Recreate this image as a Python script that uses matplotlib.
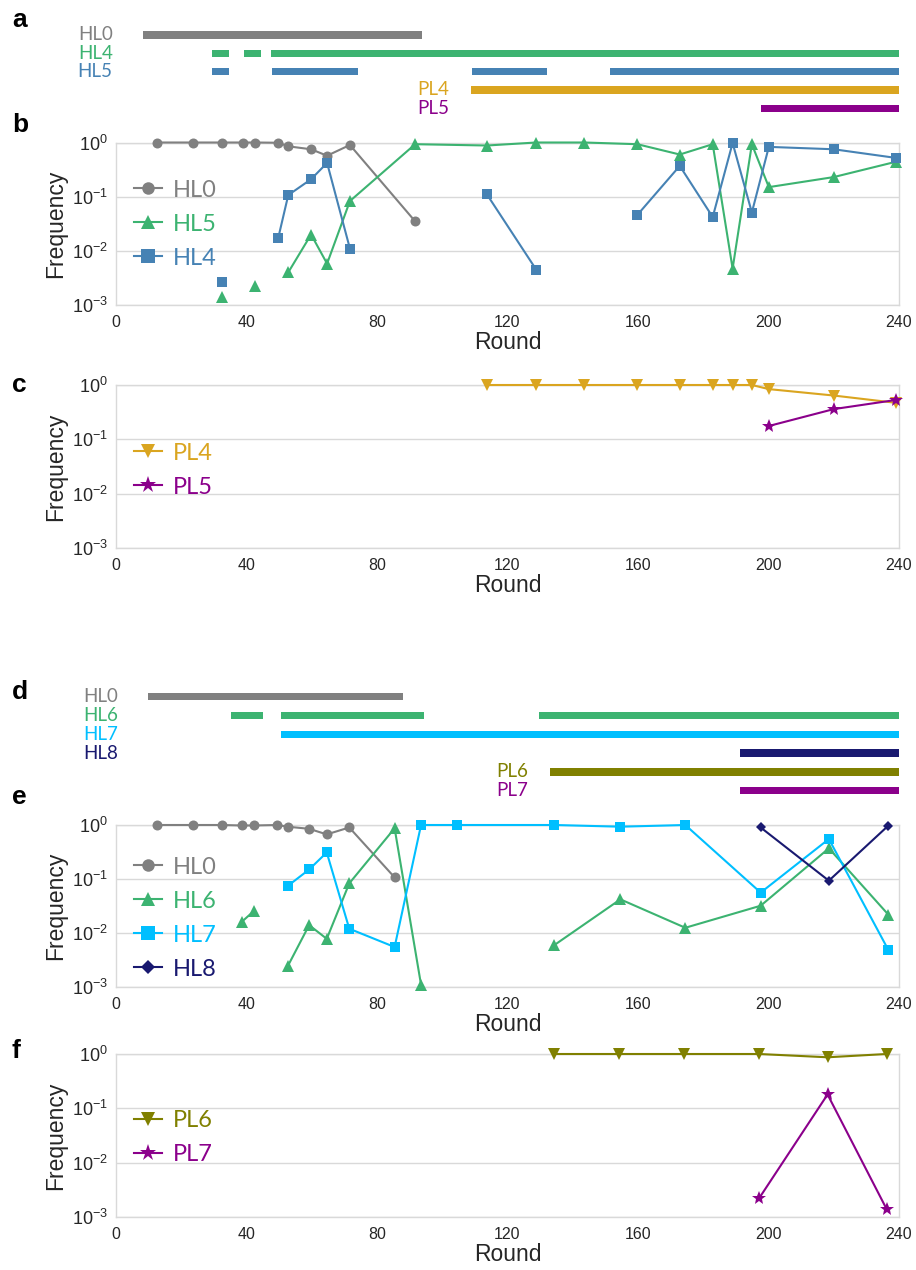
import numpy as np
import matplotlib
matplotlib.use('Agg')
import matplotlib.pyplot as plt

plt.rcParams['font.family'] = ['Liberation Sans', 'DejaVu Sans']
plt.rcParams['mathtext.fontset'] = 'custom'
plt.rcParams['mathtext.rm'] = 'Liberation Sans'
plt.rcParams['mathtext.it'] = 'Liberation Sans:italic'
plt.rcParams['mathtext.bf'] = 'Liberation Sans:bold'

# ---------------- colours ----------------
C_GRAY = '#808080'
C_GREEN = '#3cb371'
C_BLUE = '#4682b4'
C_GOLD = '#daa520'
C_PURPLE = '#8b008b'
C_CYAN = '#00bfff'
C_NAVY = '#191970'
C_OLIVE = '#808000'

# ---------------- data: panel a (timeline, rounds) ----------------
a_labels = ['HL0', 'HL4', 'HL5', 'PL4', 'PL5']
a_colors = [C_GRAY, C_GREEN, C_BLUE, C_GOLD, C_PURPLE]
a_spans = [
    [(8.4, 93.8)],
    [(29.5, 34.6), (39.3, 44.4), (47.6, 240)],
    [(29.5, 34.6), (47.7, 74.1), (109.0, 132.2), (151.4, 240)],
    [(108.8, 240)],
    [(197.7, 240)],
]

# ---------------- data: panel b ----------------
b_hl0_round = [12.6, 23.6, 32.6, 38.8, 42.7, 49.7, 52.8, 59.8, 64.7, 71.7, 91.7]
b_hl0_freq = [1.0, 1.0, 1.0, 1.0, 1.0, 0.99, 0.85, 0.75, 0.57, 0.9, 0.035]
b_hl0_seg = [(0, 11)]

b_hl5_round = [32.6, 42.7, 52.8, 59.8, 64.7, 71.7, 91.7, 113.7, 128.8, 143.6,
               159.8, 172.8, 182.9, 189.0, 194.9, 200.1, 220.0, 239.0]
b_hl5_freq = [0.0014, 0.0022, 0.004, 0.02, 0.0058, 0.083, 0.93, 0.88, 1.0, 1.0,
              0.93, 0.6, 0.93, 0.0047, 0.93, 0.15, 0.23, 0.44]
b_hl5_seg = [(0, 1), (1, 2), (2, 18)]

b_hl4_round = [32.6, 49.7, 52.8, 59.8, 64.7, 71.7, 113.7, 128.8, 159.8, 172.8,
               182.9, 189.0, 194.9, 200.1, 220.0, 239.0]
b_hl4_freq = [0.0027, 0.017, 0.107, 0.21, 0.42, 0.011, 0.11, 0.0045, 0.046, 0.37,
              0.042, 0.98, 0.051, 0.83, 0.75, 0.52]
b_hl4_seg = [(0, 1), (1, 6), (6, 8), (8, 16)]

# ---------------- data: panel c ----------------
c_pl4_round = [113.7, 128.8, 143.6, 159.8, 172.8, 182.9, 189.0, 194.9, 200.1, 220.0, 239.0]
c_pl4_freq = [1.0, 1.0, 1.0, 1.0, 1.0, 1.0, 1.0, 1.0, 0.84, 0.64, 0.47]
c_pl5_round = [200.1, 220.0, 239.0]
c_pl5_freq = [0.176, 0.36, 0.53]

# ---------------- data: panel d (timeline) ----------------
d_labels = ['HL0', 'HL6', 'HL7', 'HL8', 'PL6', 'PL7']
d_colors = [C_GRAY, C_GREEN, C_CYAN, C_NAVY, C_OLIVE, C_PURPLE]
d_spans = [
    [(9.8, 87.9)],
    [(35.2, 45.2), (50.7, 94.3), (129.6, 240)],
    [(50.7, 240)],
    [(191.4, 240)],
    [(132.9, 240)],
    [(191.4, 240)],
]

# ---------------- data: panel e ----------------
e_hl0_round = [12.5, 23.5, 32.4, 38.5, 42.4, 49.5, 52.6, 59.2, 64.6, 71.5, 85.4]
e_hl0_freq = [1.0, 1.0, 1.0, 0.98, 0.98, 1.0, 0.93, 0.85, 0.67, 0.9, 0.107]
e_hl0_seg = [(0, 11)]

e_hl6_round = [38.5, 42.4, 52.6, 59.2, 64.6, 71.5, 85.4, 93.5, 134.4, 154.6,
               174.5, 197.6, 218.5, 236.7]
e_hl6_freq = [0.016, 0.026, 0.0024, 0.014, 0.0078, 0.083, 0.87, 0.0011, 0.006, 0.042,
              0.0125, 0.032, 0.37, 0.022]
e_hl6_seg = [(0, 2), (2, 8), (8, 14)]

e_hl7_round = [52.6, 59.2, 64.6, 71.5, 85.4, 93.5, 104.4, 134.4, 154.6, 174.5,
               197.6, 218.5, 236.7]
e_hl7_freq = [0.074, 0.15, 0.31, 0.012, 0.0055, 1.0, 1.0, 1.0, 0.93, 1.0,
              0.056, 0.55, 0.0049]
e_hl7_seg = [(0, 13)]

e_hl8_round = [197.6, 218.5, 236.7]
e_hl8_freq = [0.9, 0.093, 0.97]
e_hl8_seg = [(0, 3)]

# ---------------- data: panel f ----------------
f_pl6_round = [134.1, 154.1, 174.1, 197.1, 218.1, 236.2]
f_pl6_freq = [1.0, 1.0, 1.0, 1.0, 0.87, 1.0]
f_pl7_round = [197.1, 218.1, 236.2]
f_pl7_freq = [0.0022, 0.18, 0.0014]

x_ticks = [0, 40, 80, 120, 160, 200, 240]
y_ticks = [1e-3, 1e-2, 1e-1, 1e0]

# ---------------- figure ----------------
W, H = 916, 1270
fig = plt.figure(figsize=(W / 100, H / 100), dpi=100)
LEFT, RIGHT = 116, 899


def ax_px(top, bottom, left=LEFT, right=RIGHT):
    return fig.add_axes([left / W, 1 - bottom / H, (right - left) / W, (bottom - top) / H])


def timeline(top, bottom, row0, spacing, labels, colors, spans, hl_x, pl_x):
    ax = ax_px(top, bottom)
    ax.set_xlim(0, 240)
    ax.set_ylim((bottom - row0) / spacing, (top - row0) / spacing)
    ax.axis('off')
    thick = 7.3 / spacing
    for i, (lab, col, sp) in enumerate(zip(labels, colors, spans)):
        ax.broken_barh([(s, e - s) for s, e in sp], (i - thick / 2, thick),
                       facecolors=col, edgecolors='none')
        tx = hl_x if lab.startswith('HL') else pl_x
        ax.text(tx, i, lab, ha='right', va='center', color=col,
                fontsize=13.5, family=['Lato', 'DejaVu Sans'], clip_on=False)
    return ax


def freq_axes(top, bottom):
    ax = ax_px(top, bottom)
    ax.set_yscale('log')
    ax.set_ylim(1e-3, 1)
    ax.set_xlim(0, 240)
    ax.set_xticks(x_ticks)
    ax.set_yticks(y_ticks)
    ax.yaxis.set_minor_locator(matplotlib.ticker.NullLocator())
    ax.grid(axis='y', color='#d9d9d9', lw=1)
    ax.set_axisbelow(True)
    for sp in ax.spines.values():
        sp.set_color('#d9d9d9')
        sp.set_linewidth(1)
    ax.tick_params(axis='x', length=0, labelsize=11.5, colors='#262626', pad=7)
    ax.tick_params(axis='y', length=0, labelsize=13, colors='#262626', pad=6)
    ax.set_xlabel('Round', fontsize=16.5, color='#262626', labelpad=1)
    ax.set_ylabel('Frequency', fontsize=16.5, color='#262626', labelpad=3)
    return ax


def series(ax, rounds, freqs, segs, color, marker, ms, label):
    for k, (s, e) in enumerate(segs):
        ax.plot(rounds[s:e], freqs[s:e], color=color, marker=marker, ms=ms, lw=1.5,
                mew=0, clip_on=False, label=label if k == 0 else '_nolegend_',
                zorder=3)


def legend(ax, y_frac):
    ax.legend(loc='upper left', bbox_to_anchor=(0.023, y_frac), frameon=False,
              borderpad=0, borderaxespad=0, handlelength=1.2, handletextpad=0.45,
              labelspacing=0.55, markerscale=1.25, numpoints=1,
              prop={'family': ['Lato', 'DejaVu Sans'], 'size': 17},
              labelcolor='linecolor')


# panel a
timeline(24, 118, 35, 18.3, a_labels, a_colors, a_spans, -1.0, 102.0)

# panel b
axb = freq_axes(142.5, 305)
series(axb, b_hl0_round, b_hl0_freq, b_hl0_seg, C_GRAY, 'o', 7.2, 'HL0')
series(axb, b_hl5_round, b_hl5_freq, b_hl5_seg, C_GREEN, '^', 8.6, 'HL5')
series(axb, b_hl4_round, b_hl4_freq, b_hl4_seg, C_BLUE, 's', 7.5, 'HL4')
legend(axb, 0.772)

# panel c
axc = freq_axes(385, 548)
series(axc, c_pl4_round, c_pl4_freq, [(0, len(c_pl4_round))], C_GOLD, 'v', 8.6, 'PL4')
series(axc, c_pl5_round, c_pl5_freq, [(0, len(c_pl5_round))], C_PURPLE, '*', 10, 'PL5')
legend(axc, 0.647)

# panel d
timeline(686, 800, 696.7, 18.8, d_labels, d_colors, d_spans, 0.7, 126.3)

# panel e
axe = freq_axes(825, 987)
series(axe, e_hl0_round, e_hl0_freq, e_hl0_seg, C_GRAY, 'o', 7.2, 'HL0')
series(axe, e_hl6_round, e_hl6_freq, e_hl6_seg, C_GREEN, '^', 8.6, 'HL6')
series(axe, e_hl7_round, e_hl7_freq, e_hl7_seg, C_CYAN, 's', 7.5, 'HL7')
series(axe, e_hl8_round, e_hl8_freq, e_hl8_seg, C_NAVY, 'D', 5.6, 'HL8')
legend(axe, 0.805)

# panel f
axf = freq_axes(1054, 1217)
series(axf, f_pl6_round, f_pl6_freq, [(0, len(f_pl6_round))], C_OLIVE, 'v', 8.6, 'PL6')
series(axf, f_pl7_round, f_pl7_freq, [(0, len(f_pl7_round))], C_PURPLE, '*', 10, 'PL7')
legend(axf, 0.655)

# panel letters
for letter, base in [('a', 27), ('b', 132), ('c', 392), ('d', 699), ('e', 804), ('f', 1058)]:
    fig.text(12 / W, 1 - base / H, letter, fontsize=19, fontweight='bold',
             va='baseline', ha='left', color='black')

fig.savefig('out.png', dpi=100)
